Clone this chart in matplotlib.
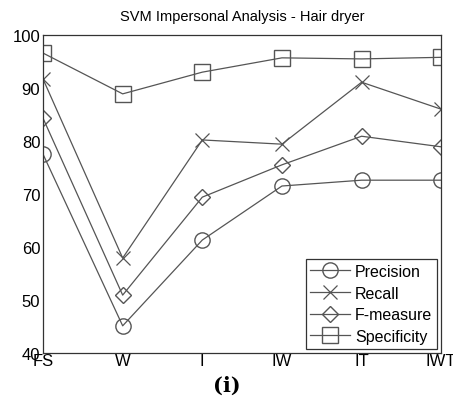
import matplotlib.pyplot as plt

plt.rcParams['font.family'] = ['Liberation Sans', 'DejaVu Sans']

features = ['FS', 'W', 'I', 'IW', 'IT', 'IWT']
precision = [77.5, 45.1, 61.3, 71.5, 72.6, 72.6]
recall = [91.7, 57.9, 80.2, 79.4, 91.1, 86.0]
f_measure = [84.3, 50.9, 69.4, 75.5, 80.9, 78.9]
specificity = [96.6, 88.9, 93.0, 95.7, 95.5, 95.8]

fig = plt.figure(figsize=(4.53, 4.10), dpi=100)
ax = fig.add_axes([0.095, 0.137, 0.879, 0.775])

x = list(range(len(features)))
line_col = '#555555'
ax.plot(x, precision, color=line_col, lw=0.9, marker='o', ms=11, mfc='none',
        mec=line_col, label='Precision')
ax.plot(x, recall, color=line_col, lw=0.9, marker='x', ms=10, mec=line_col,
        mew=0.9, label='Recall')
ax.plot(x, f_measure, color=line_col, lw=0.9, marker='D', ms=8, mfc='none',
        mec=line_col, label='F-measure')
ax.plot(x, specificity, color=line_col, lw=0.9, marker='s', ms=11, mfc='none',
        mec=line_col, label='Specificity')

ax.set_xlim(0, 5)
ax.set_ylim(40, 100)
ax.set_xticks(x)
ax.set_xticklabels(features)
ax.set_yticks([40, 50, 60, 70, 80, 90, 100])
ax.tick_params(axis='x', length=0, labelsize=12, pad=0)
ax.tick_params(axis='y', length=0, labelsize=12, pad=2)
for s in ax.spines.values():
    s.set_linewidth(0.9)
    s.set_color('#333333')

ax.set_title('SVM Impersonal Analysis - Hair dryer', fontsize=10.5, pad=11)

leg = ax.legend(loc='lower right', fontsize=11.5, handlelength=2.5,
                borderpad=0.3, labelspacing=0.42, handletextpad=0.3,
                fancybox=False, framealpha=1, edgecolor='#333333',
                borderaxespad=0.25)
leg.get_frame().set_linewidth(0.9)

fig.text(0.5, 0.06, '(i)', ha='center', va='center', fontsize=15,
         fontweight='bold', family=['DejaVu Serif'])

fig.savefig('out.png', dpi=100)
